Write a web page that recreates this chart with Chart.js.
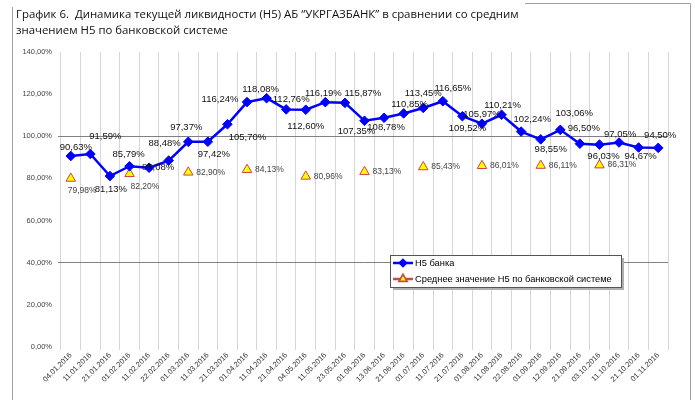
<!DOCTYPE html>
<html>
<head>
<meta charset="utf-8">
<script src="https://cdn.jsdelivr.net/npm/chart.js@4/dist/chart.umd.min.js"></script>
<style>
  html, body { margin: 0; padding: 0; background: #fff; }
  #wrap { position: relative; width: 695px; height: 400px; }
  #title {
    position: absolute; left: 16px; top: 6px;
    font: 11.4px "Open Sans", sans-serif; line-height: 16px; color: #111;
    white-space: nowrap;
  }
  canvas { position: absolute; left: 0; top: 0; }
</style>
</head>
<body>
<div id="wrap">
  <canvas id="chart" width="695" height="400"></canvas>
  <div id="title">График 6.&nbsp; Динамика текущей ликвидности (Н5) АБ “УКРГАЗБАНК” в сравнении со средним<br>значением Н5 по банковской системе</div>
</div>
<script>
const dates = [
  "04.01.2016", "11.01.2016", "21.01.2016", "01.02.2016", "11.02.2016", "22.02.2016",
  "01.03.2016", "11.03.2016", "21.03.2016", "01.04.2016", "11.04.2016", "21.04.2016",
  "04.05.2016", "11.05.2016", "23.05.2016", "01.06.2016", "13.06.2016", "21.06.2016",
  "01.07.2016", "11.07.2016", "21.07.2016", "01.08.2016", "11.08.2016", "22.08.2016",
  "01.09.2016", "12.09.2016", "21.09.2016", "03.10.2016", "11.10.2016", "21.10.2016",
  "01.11.2016"
];

// Н5 банка, %
const bankValues = [
  90.63, 91.59, 81.13, 85.79, 85.08, 88.48,
  97.37, 97.42, 105.70, 116.24, 118.08, 112.76,
  112.60, 116.19, 115.87, 107.35, 108.78, 110.85,
  113.45, 116.65, 109.52, 105.97, 110.21, 102.24,
  98.55, 103.06, 96.50, 96.03, 97.05, 94.67,
  94.50
];

// среднее по банковской системе, только на первые числа месяца
const systemValues = [
  79.98, null, null, 82.20, null, null,
  82.90, null, null, 84.13, null, null,
  80.96, null, null, 83.13, null, null,
  85.43, null, null, 86.01, null, null,
  86.11, null, null, 86.31, null, null,
  null
];

const yTicks = [ 0, 20, 40, 60, 80, 100, 120, 140 ];

// where each value label sits relative to its marker (dx, dy in px)
const bankLabelOffsets = [
  [ 5, -9 ], [ 15, -18 ], [ 1, 13 ], [ -1, -12 ], [ 9, 0 ], [ -4, -17 ],
  [ -2, -14 ], [ 6, 13 ], [ 20, 13 ], [ -27, -3 ], [ -6, -9 ], [ 5, -10 ],
  [ 0, 17 ], [ -2, -9 ], [ 18, -9 ], [ -8, 11 ], [ 2, 10 ], [ 6, -9 ],
  [ 0, -15 ], [ 10, -13 ], [ 5, 12 ], [ 0, -9 ], [ 1, -9 ], [ 11, -12 ],
  [ 10, 10 ], [ 14, -16 ], [ 4, -15 ], [ 4, 12 ], [ 1, -8 ], [ 2, 9 ],
  [ 2, -13 ]
];
const systemLabelOffsets = { 0: [ -3, 12 ], 3: [ 1, 13 ] };

const BLUE = "#0000ff";
const TRI_FILL = "#ffff00";
const TRI_EDGE = "#d0443a";

function pct( v ) {
  return v.toFixed( 2 ).replace( ".", "," ) + "%";
}

const valueLabels = {
  id: "valueLabels",
  afterDatasetsDraw( chart ) {
    let ctx = chart.ctx;
    ctx.save();
    ctx.textBaseline = "middle";

    let bankMeta = chart.getDatasetMeta( 0 );
    ctx.font = "9.5px 'Liberation Sans', Arial, sans-serif";
    ctx.fillStyle = "#111";
    ctx.textAlign = "center";
    bankMeta.data.forEach( ( pt, i ) => {
      let off = bankLabelOffsets[ i ];
      ctx.fillText( pct( bankValues[ i ] ), pt.x + off[ 0 ], pt.y + off[ 1 ] );
    } );

    let sysMeta = chart.getDatasetMeta( 1 );
    ctx.font = "8.5px 'Liberation Sans', Arial, sans-serif";
    ctx.fillStyle = "#444";
    ctx.textAlign = "left";
    sysMeta.data.forEach( ( pt, i ) => {
      if ( systemValues[ i ] == null ) return;
      let off = systemLabelOffsets[ i ] || [ 8, 0 ];
      ctx.fillText( pct( systemValues[ i ] ), pt.x + off[ 0 ], pt.y + off[ 1 ] );
    } );
    ctx.restore();
  }
};

// frame lines and the boxed legend over the lower right of the plot
const frameAndLegend = {
  id: "frameAndLegend",
  afterDraw( chart ) {
    let ctx = chart.ctx;
    let area = chart.chartArea;
    ctx.save();

    ctx.strokeStyle = "#a0a0a0";
    ctx.lineWidth = 1;
    ctx.beginPath();
    ctx.moveTo( 12.5, 7 );
    ctx.lineTo( 12.5, 400 );
    ctx.moveTo( 525, 3.5 );
    ctx.lineTo( 690.5, 3.5 );
    ctx.lineTo( 690.5, 400 );
    ctx.stroke();

    let bx = area.left + 329, by = 255, bw = 231, bh = 32;
    ctx.fillStyle = "#b0b0b0";
    ctx.fillRect( bx + 3, by + 3, bw, bh );
    ctx.fillStyle = "#fff";
    ctx.fillRect( bx, by, bw, bh );
    ctx.strokeStyle = "#555";
    ctx.strokeRect( bx + 0.5, by + 0.5, bw, bh );

    let items = chart.data.datasets;
    items.forEach( ( ds, i ) => {
      let y = by + 8 + i * 16;
      let x0 = bx + 3;
      ctx.strokeStyle = i === 0 ? BLUE : "#c0504d";
      ctx.lineWidth = 2.5;
      ctx.beginPath();
      ctx.moveTo( x0, y );
      ctx.lineTo( x0 + 20, y );
      ctx.stroke();
      Chart.helpers.drawPoint( ctx, {
        pointStyle: ds.pointStyle,
        radius: i === 0 ? 3 : 4,
        borderWidth: 1,
        rotation: 0
      }, x0 + 10, y );
      ctx.fillStyle = i === 0 ? BLUE : TRI_FILL;
      ctx.strokeStyle = i === 0 ? BLUE : TRI_EDGE;
      ctx.lineWidth = 1;
      ctx.fill();
      ctx.stroke();

      ctx.fillStyle = "#000";
      ctx.font = "9.3px 'Liberation Sans', Arial, sans-serif";
      ctx.textAlign = "left";
      ctx.textBaseline = "middle";
      ctx.fillText( ds.label, x0 + 22, y );
    } );
    ctx.restore();
  }
};

new Chart( document.getElementById( "chart" ), {
  type: "line",
  data: {
    labels: dates,
    datasets: [
      {
        label: "Н5 банка",
        data: bankValues,
        borderColor: BLUE,
        backgroundColor: BLUE,
        borderWidth: 2.5,
        pointStyle: "rectRot",
        pointRadius: 4.8,
        pointBorderWidth: 1,
        tension: 0
      },
      {
        label: "Среднее значение Н5 по банковской системе",
        data: systemValues,
        showLine: false,
        borderColor: TRI_EDGE,
        backgroundColor: TRI_FILL,
        pointStyle: "triangle",
        pointRadius: 5.5,
        pointBorderWidth: 1
      }
    ]
  },
  options: {
    responsive: false,
    animation: false,
    layout: { padding: { top: 52, right: 27, left: 0, bottom: 0 } },
    plugins: {
      legend: { display: false },
      tooltip: { enabled: false }
    },
    scales: {
      x: {
        offset: true,
        grid: { offset: true, color: "#d6d6d6", tickLength: 3 },
        border: { display: false },
        ticks: {
          autoSkip: false,
          minRotation: 45,
          maxRotation: 45,
          padding: 1,
          color: "#333",
          font: { family: "'Liberation Sans', Arial, sans-serif", size: 7.5 }
        },
        afterFit: ( scale ) => { scale.height = 53; }
      },
      y: {
        min: 0,
        max: 140,
        afterBuildTicks: ( scale ) => { scale.ticks = yTicks.map( ( v ) => ( { value: v } ) ); },
        grid: {
          color: ( c ) => ( c.tick && ( c.tick.value === 100 || c.tick.value === 40 ) ) ? "#808080" : "rgba(0,0,0,0)",
          tickLength: 3
        },
        border: { display: false },
        ticks: {
          padding: 6,
          color: "#444",
          font: { family: "'Liberation Sans', Arial, sans-serif", size: 7.5 },
          callback: ( v ) => pct( v )
        },
        afterFit: ( scale ) => { scale.width = 61; }
      }
    }
  },
  plugins: [ valueLabels, frameAndLegend ]
} );
</script>
</body>
</html>
